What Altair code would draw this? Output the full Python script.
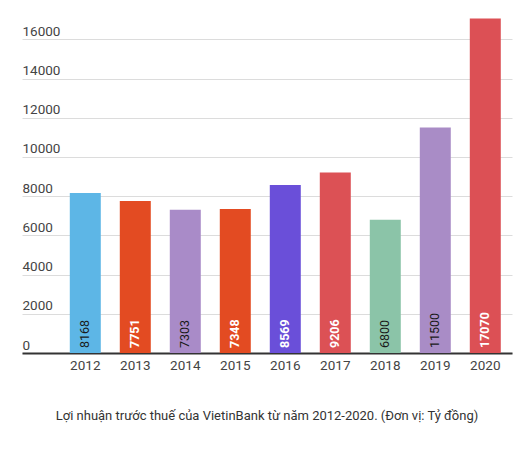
import altair as alt
import pandas as pd

years = ["2012", "2013", "2014", "2015", "2016", "2017", "2018", "2019", "2020"]
profits = [8168, 7751, 7303, 7348, 8569, 9206, 6800, 11500, 17070]
bar_colors = ["#5DB6E6", "#E34B22", "#A98BC8", "#E34B22", "#6A4FD9",
              "#DC5155", "#8BC4A8", "#A98CC6", "#DC5055"]
label_colors = ["#1a1a1a", "#ffffff", "#1a1a1a", "#ffffff", "#ffffff",
                "#ffffff", "#1a1a1a", "#1a1a1a", "#ffffff"]
y_ticks = [0, 2000, 4000, 6000, 8000, 10000, 12000, 14000, 16000]
caption = "Lợi nhuận trước thuế của VietinBank từ năm 2012-2020. (Đơn vị: Tỷ đồng)"

df = pd.DataFrame({"year": years, "profit": profits, "lc": label_colors})

FONT = "Roboto"

x = alt.X("year:N", sort=years,
          scale=alt.Scale(paddingInner=0.38, paddingOuter=0.59, align=0.81),
          axis=alt.Axis(title=None, ticks=False, tickSize=0, labelPadding=5,
                        labelFontSize=13.5, labelColor="#444", labelFont=FONT,
                        labelAngle=0, domainColor="#333", domainWidth=2, grid=False))

y_scale = alt.Scale(domain=[0, 17600], nice=False)

bars = alt.Chart(df).mark_bar().encode(
    x=x,
    y=alt.Y("profit:Q", scale=y_scale,
            axis=alt.Axis(title=None, values=y_ticks, format="d", grid=True,
                          gridColor="#dcdcdc", gridWidth=1, domain=False, ticks=False,
                          tickSize=0, labelAlign="left", labelPadding=0,
                          labelBaseline="alphabetic", labelOffset=-4, labelFontSize=13.5,
                          labelColor="#444", labelFont=FONT)),
    color=alt.Color("year:N", scale=alt.Scale(domain=years, range=bar_colors), legend=None),
)


def value_labels(weight, is_white):
    cond = "datum.lc == '#ffffff'" if is_white else "datum.lc != '#ffffff'"
    return alt.Chart(df).transform_filter(cond).mark_text(
        angle=270, align="left", baseline="middle", dx=5, fontSize=12.5, font=FONT,
        fontWeight=weight
    ).encode(
        x=alt.X("year:N", sort=years),
        y=alt.datum(0),
        text=alt.Text("profit:Q", format="d"),
        color=alt.Color("lc:N", scale=None),
    )


chart = alt.layer(bars, value_labels("bold", True), value_labels("normal", False)).properties(
    width=490, height=345,
    padding={"left": 14, "top": 0, "right": 10, "bottom": 10},
    title=alt.TitleParams(caption, orient="bottom", anchor="middle", fontSize=13,
                          fontWeight="normal", color="#333", font=FONT, offset=38,
                          baseline="top"),
    background="white",
).configure_view(stroke=None)

chart.save("out.html", embed_options={"renderer": "svg", "actions": False})
